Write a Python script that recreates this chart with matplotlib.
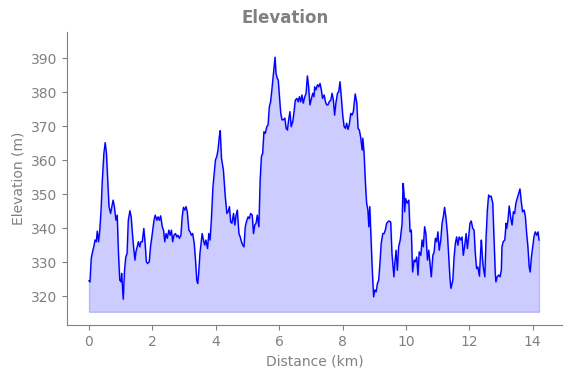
import matplotlib
matplotlib.use("Agg")
import matplotlib.pyplot as plt

# distance along the route (km) and elevation (m)
distance_km = [
    0.00, 0.03, 0.07, 0.11, 0.15, 0.19, 0.23, 0.26, 0.30, 0.34, 0.38, 0.42, 0.47, 0.51, 0.55, 0.59,
    0.63, 0.68, 0.72, 0.76, 0.80, 0.85, 0.89, 0.93, 0.97, 1.01, 1.03, 1.08, 1.12, 1.16, 1.20, 1.24,
    1.29, 1.33, 1.37, 1.41, 1.45, 1.48, 1.52, 1.56, 1.60, 1.64, 1.68, 1.73, 1.77, 1.81, 1.85, 1.90,
    1.94, 1.99, 2.05, 2.09, 2.14, 2.18, 2.22, 2.26, 2.31, 2.35, 2.39, 2.43, 2.47, 2.52, 2.56, 2.60,
    2.64, 2.68, 2.73, 2.77, 2.81, 2.85, 2.90, 2.94, 2.98, 3.02, 3.06, 3.10, 3.15, 3.19, 3.23, 3.27,
    3.32, 3.36, 3.40, 3.43, 3.46, 3.50, 3.57, 3.61, 3.65, 3.69, 3.74, 3.78, 3.82, 3.86, 3.91, 3.95,
    3.99, 4.03, 4.07, 4.11, 4.14, 4.18, 4.24, 4.30, 4.35, 4.39, 4.43, 4.47, 4.51, 4.56, 4.60, 4.64,
    4.68, 4.73, 4.77, 4.81, 4.85, 4.89, 4.93, 4.98, 5.02, 5.06, 5.10, 5.15, 5.19, 5.23, 5.27, 5.31,
    5.36, 5.40, 5.44, 5.48, 5.52, 5.56, 5.61, 5.65, 5.69, 5.73, 5.77, 5.82, 5.87, 5.90, 5.94, 5.97,
    6.01, 6.05, 6.09, 6.13, 6.18, 6.22, 6.26, 6.30, 6.34, 6.38, 6.43, 6.47, 6.51, 6.56, 6.60, 6.64,
    6.68, 6.72, 6.76, 6.81, 6.85, 6.89, 6.93, 6.97, 7.02, 7.06, 7.10, 7.12, 7.16, 7.21, 7.25, 7.29,
    7.33, 7.37, 7.42, 7.46, 7.50, 7.54, 7.58, 7.63, 7.67, 7.71, 7.75, 7.79, 7.84, 7.88, 7.92, 7.96,
    8.01, 8.05, 8.09, 8.13, 8.17, 8.21, 8.26, 8.30, 8.34, 8.37, 8.40, 8.45, 8.49, 8.53, 8.57, 8.62,
    8.64, 8.68, 8.72, 8.76, 8.80, 8.83, 8.86, 8.89, 8.93, 8.98, 9.02, 9.06, 9.10, 9.14, 9.18, 9.22,
    9.27, 9.31, 9.35, 9.39, 9.46, 9.52, 9.56, 9.62, 9.65, 9.69, 9.73, 9.77, 9.82, 9.88, 9.91, 9.94,
    9.96, 9.99, 10.04, 10.09, 10.13, 10.17, 10.21, 10.26, 10.30, 10.34, 10.38, 10.42, 10.47, 10.51,
    10.55, 10.59, 10.63, 10.68, 10.72, 10.76, 10.80, 10.85, 10.89, 10.93, 10.97, 11.01, 11.05, 11.10,
    11.14, 11.18, 11.22, 11.26, 11.31, 11.35, 11.39, 11.42, 11.48, 11.52, 11.56, 11.60, 11.64, 11.68,
    11.73, 11.77, 11.81, 11.85, 11.90, 11.94, 11.98, 12.02, 12.06, 12.11, 12.15, 12.19, 12.23, 12.27,
    12.32, 12.36, 12.38, 12.42, 12.44, 12.49, 12.53, 12.57, 12.61, 12.65, 12.69, 12.74, 12.78, 12.82,
    12.84, 12.88, 12.93, 12.97, 13.01, 13.03, 13.07, 13.12, 13.16, 13.18, 13.22, 13.26, 13.31, 13.35,
    13.39, 13.43, 13.47, 13.51, 13.56, 13.60, 13.64, 13.68, 13.73, 13.77, 13.81, 13.85, 13.89, 13.92,
    13.96, 14.00, 14.04, 14.08, 14.13, 14.17, 14.20,
]
elevation_m = [
    324.6, 324.3, 331.2, 333.1, 334.6, 336.6, 336.1, 339.2, 336.1, 339.5, 345.4, 354.2, 362.1, 365.2, 362.1, 354.2,
    346.4, 344.4, 346.4, 348.3, 346.4, 342.4, 343.9, 332.6, 324.8, 324.3, 326.8, 319.2, 327.7, 331.6, 332.6, 342.4,
    345.2, 343.4, 338.5, 334.1, 330.7, 333.1, 334.6, 336.1, 334.6, 336.1, 336.1, 340.0, 335.6, 330.2, 329.7, 330.2,
    334.6, 338.0, 342.4, 343.9, 342.4, 343.4, 342.4, 343.7, 340.5, 339.5, 336.1, 338.5, 337.1, 339.5, 338.0, 339.5,
    336.1, 338.0, 338.5, 337.5, 338.0, 337.1, 338.0, 343.4, 346.2, 345.4, 346.4, 344.9, 339.5, 339.0, 338.0, 338.5,
    335.6, 330.7, 324.8, 323.8, 326.8, 332.6, 338.5, 336.6, 335.1, 336.6, 334.1, 338.5, 336.6, 342.4, 352.2, 356.0,
    360.1, 361.1, 363.0, 366.9, 368.7, 360.6, 357.1, 349.3, 344.4, 344.9, 346.4, 341.9, 341.5, 344.4, 341.0, 343.9,
    345.4, 338.5, 337.5, 336.1, 335.1, 334.6, 340.5, 342.4, 343.4, 342.9, 344.4, 343.9, 338.5, 341.0, 341.5, 343.9,
    340.5, 354.2, 361.1, 362.1, 368.4, 367.9, 369.9, 370.4, 375.8, 377.2, 380.7, 385.6, 390.3, 385.6, 384.1, 383.6,
    378.7, 373.8, 371.9, 371.9, 372.4, 369.4, 368.9, 371.9, 374.3, 369.9, 371.4, 374.3, 377.7, 378.2, 377.2, 378.7,
    377.2, 379.2, 376.8, 378.7, 379.7, 384.8, 381.6, 376.3, 378.2, 379.7, 378.7, 381.6, 380.7, 382.2, 381.6, 382.6,
    380.7, 378.2, 379.2, 377.2, 376.3, 376.3, 377.2, 377.7, 379.7, 377.7, 373.3, 376.8, 379.7, 380.2, 383.1, 378.7,
    372.8, 369.9, 369.4, 370.9, 369.1, 370.4, 373.8, 373.3, 374.3, 376.8, 379.5, 376.8, 369.4, 368.9, 366.9, 363.0,
    366.5, 362.1, 353.7, 347.4, 345.4, 340.5, 346.4, 339.5, 329.7, 319.9, 321.9, 321.4, 323.8, 324.8, 329.7, 335.6,
    338.5, 338.5, 339.5, 341.5, 342.2, 341.9, 332.6, 325.8, 329.7, 333.6, 327.7, 334.6, 336.6, 341.5, 353.2, 350.3,
    344.9, 348.8, 347.4, 348.3, 339.0, 339.5, 327.2, 330.7, 330.2, 331.6, 326.3, 333.1, 332.1, 336.6,
    334.6, 340.5, 338.5, 330.7, 333.6, 329.7, 325.8, 332.1, 333.1, 337.1, 336.1, 339.0, 333.6, 336.6,
    341.5, 343.4, 346.2, 343.4, 338.5, 331.6, 325.3, 322.4, 324.8, 331.6, 335.6, 337.5, 335.1, 337.5,
    336.6, 337.5, 332.1, 334.6, 338.5, 334.1, 337.5, 341.5, 342.2, 340.0, 339.5, 332.6, 328.2, 328.7,
    326.0, 333.6, 336.6, 330.7, 328.7, 325.8, 337.5, 345.4, 349.8, 349.3, 349.5, 347.4, 337.5, 326.8,
    324.3, 325.8, 326.3, 325.8, 327.7, 334.6, 336.1, 336.6, 341.5, 340.0, 342.4, 346.6, 342.9, 341.0,
    344.9, 344.4, 347.4, 348.8, 350.3, 351.6, 347.8, 344.9, 345.4, 343.4, 338.5, 334.6, 328.7, 327.2,
    331.6, 334.6, 337.5, 339.0, 338.0, 339.0, 336.6,
]
fill_base = 315.5

grey = "#808080"

fig = plt.figure(figsize=(5.71, 3.78), dpi=100)
ax = fig.add_axes([0.117, 0.140, 0.868, 0.7745])

ax.plot(distance_km, elevation_m, color="blue", linewidth=1)
ax.fill_between(distance_km, elevation_m, fill_base, color="blue", alpha=0.2)

ax.set_xlim(-0.70, 14.94)
ax.set_ylim(311.6, 397.6)
ax.set_xticks([0, 2, 4, 6, 8, 10, 12, 14])
ax.set_yticks([320, 330, 340, 350, 360, 370, 380, 390])

ax.set_xlabel("Distance (km)", color=grey)
ax.set_ylabel("Elevation (m)", color=grey)
fig.suptitle("Elevation", color=grey, fontweight="bold", fontsize=12, y=0.975)

ax.spines["top"].set_visible(False)
ax.spines["right"].set_visible(False)
ax.spines["left"].set_color(grey)
ax.spines["bottom"].set_color(grey)
ax.tick_params(colors=grey)

fig.savefig("out.png", dpi=100)
